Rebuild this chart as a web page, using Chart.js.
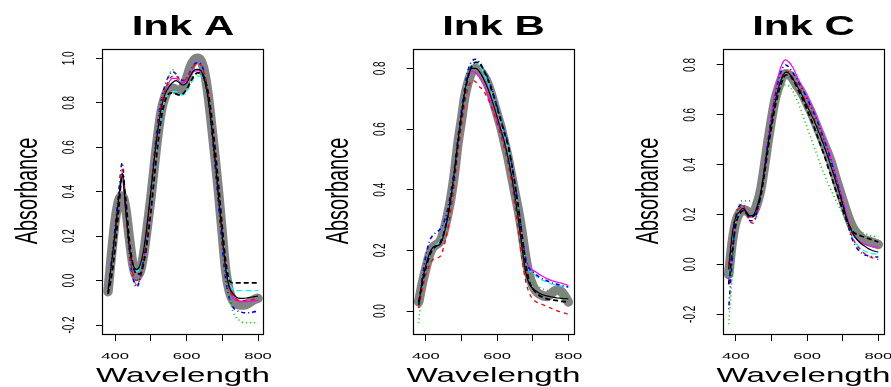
<!DOCTYPE html>
<html>
<head>
<meta charset="utf-8">
<script src="https://cdn.jsdelivr.net/npm/chart.js@4.4.0/dist/chart.umd.min.js"></script>
<style>
body { margin: 0; background: #fff; }
#wrap { position: relative; width: 891px; height: 387px; }
canvas { position: absolute; left: 0; top: 0; }
</style>
</head>
<body>
<div id="wrap">
<canvas id="inkA" width="891" height="387"></canvas>
<canvas id="inkB" width="891" height="387"></canvas>
<canvas id="inkC" width="891" height="387"></canvas>
</div>
<script>
// ------------------------------------------------------------------ data section
var wavelength = [380,390,400,410,420,430,440,450,460,470,480,490,500,510,520,530,540,550,560,570,580,
                  590,600,610,620,630,640,650,660,670,680,690,700,710,720,730,740,750,760,770,780,790,800];
var x_ticks = [400, 500, 600, 700, 800];
var x_tick_labels = ['400', '', '600', '', '800'];
var inkA_y_ticks = [-0.2, 0, 0.2, 0.4, 0.6, 0.8, 1.0];
var inkB_y_ticks = [0, 0.2, 0.4, 0.6, 0.8];
var inkC_y_ticks = [-0.2, 0, 0.2, 0.4, 0.6, 0.8];

// ink A
var inkA_mean    = [-0.05,0.12,0.27,0.36,0.38,0.32,0.19,0.07,0.02,0.04,0.12,0.24,0.37,0.52,0.66,0.77,0.83,0.86,0.865,0.86,0.855,0.87,0.91,0.96,0.99,1.0,0.99,0.94,0.84,0.70,0.55,0.39,0.21,0.04,-0.05,-0.09,-0.105,-0.11,-0.11,-0.105,-0.095,-0.085,-0.08];
var inkA_black   = [-0.05,0.08,0.22,0.37,0.47,0.31,0.15,0.07,0.05,0.07,0.14,0.26,0.40,0.55,0.68,0.78,0.84,0.87,0.89,0.90,0.89,0.88,0.89,0.92,0.945,0.95,0.945,0.90,0.82,0.69,0.54,0.37,0.20,0.05,-0.03,-0.06,-0.075,-0.08,-0.08,-0.078,-0.075,-0.072,-0.07];
var inkA_black2  = [-0.06,0.02,0.15,0.32,0.48,0.36,0.18,0.07,0.03,0.03,0.08,0.18,0.31,0.47,0.62,0.74,0.81,0.84,0.845,0.84,0.835,0.84,0.86,0.89,0.92,0.935,0.935,0.91,0.85,0.74,0.59,0.42,0.24,0.08,0.0,-0.01,-0.01,-0.01,-0.01,-0.01,-0.01,-0.01,-0.01];
var inkA_red     = [-0.04,0.07,0.21,0.37,0.50,0.31,0.13,0.03,0.0,0.03,0.12,0.25,0.40,0.56,0.70,0.80,0.86,0.90,0.92,0.92,0.905,0.90,0.91,0.94,0.965,0.975,0.97,0.93,0.84,0.70,0.54,0.37,0.19,0.04,-0.04,-0.07,-0.085,-0.09,-0.09,-0.09,-0.088,-0.085,-0.085];
var inkA_green   = [-0.05,0.06,0.20,0.36,0.49,0.30,0.12,0.02,-0.02,0.02,0.11,0.24,0.39,0.55,0.70,0.81,0.88,0.92,0.95,0.93,0.90,0.88,0.885,0.90,0.92,0.93,0.93,0.89,0.81,0.68,0.52,0.35,0.17,0.02,-0.08,-0.14,-0.17,-0.18,-0.19,-0.19,-0.19,-0.19,-0.19];
var inkA_blue    = [-0.05,0.09,0.24,0.40,0.53,0.32,0.12,0.01,-0.03,0.01,0.10,0.24,0.40,0.57,0.72,0.82,0.88,0.92,0.94,0.93,0.91,0.90,0.91,0.94,0.97,0.98,0.975,0.93,0.83,0.68,0.51,0.33,0.15,0.0,-0.08,-0.12,-0.135,-0.14,-0.145,-0.145,-0.145,-0.14,-0.14];
var inkA_cyan    = [-0.05,0.07,0.21,0.36,0.46,0.32,0.16,0.07,0.04,0.06,0.13,0.25,0.38,0.53,0.66,0.76,0.82,0.84,0.85,0.85,0.84,0.835,0.85,0.88,0.91,0.92,0.92,0.89,0.81,0.69,0.54,0.38,0.21,0.07,-0.01,-0.04,-0.045,-0.045,-0.045,-0.045,-0.045,-0.045,-0.045];
var inkA_magenta = [-0.05,0.07,0.21,0.36,0.45,0.30,0.13,0.02,-0.02,0.01,0.10,0.23,0.38,0.54,0.69,0.80,0.86,0.89,0.91,0.91,0.895,0.89,0.90,0.92,0.94,0.945,0.94,0.90,0.82,0.69,0.53,0.36,0.19,0.04,-0.04,-0.08,-0.09,-0.095,-0.095,-0.095,-0.093,-0.09,-0.09];

// ink B
var inkB_mean    = [0.03,0.09,0.14,0.185,0.21,0.22,0.23,0.26,0.31,0.37,0.45,0.55,0.63,0.71,0.76,0.79,0.80,0.795,0.78,0.76,0.73,0.69,0.65,0.61,0.56,0.51,0.45,0.39,0.33,0.26,0.18,0.12,0.085,0.065,0.055,0.05,0.048,0.055,0.065,0.07,0.065,0.05,0.03];
var inkB_black   = [0.02,0.10,0.15,0.19,0.21,0.215,0.22,0.25,0.30,0.37,0.46,0.56,0.65,0.73,0.78,0.80,0.80,0.79,0.77,0.745,0.715,0.68,0.64,0.60,0.56,0.51,0.45,0.38,0.30,0.21,0.13,0.09,0.075,0.065,0.058,0.053,0.05,0.047,0.045,0.043,0.042,0.041,0.04];
var inkB_black2  = [0.03,0.09,0.14,0.18,0.205,0.215,0.225,0.255,0.305,0.37,0.45,0.55,0.64,0.72,0.78,0.81,0.82,0.82,0.80,0.775,0.745,0.71,0.67,0.63,0.59,0.55,0.49,0.42,0.34,0.25,0.16,0.10,0.075,0.06,0.05,0.045,0.04,0.038,0.036,0.034,0.032,0.031,0.03];
var inkB_red     = [0.01,0.07,0.12,0.15,0.17,0.175,0.18,0.21,0.26,0.33,0.42,0.52,0.61,0.69,0.74,0.76,0.755,0.74,0.73,0.71,0.685,0.655,0.62,0.58,0.54,0.49,0.43,0.35,0.26,0.17,0.10,0.06,0.04,0.03,0.025,0.02,0.015,0.01,0.005,0.0,-0.003,-0.007,-0.01];
var inkB_green   = [-0.04,0.08,0.14,0.18,0.205,0.215,0.225,0.255,0.30,0.37,0.46,0.56,0.65,0.73,0.78,0.80,0.80,0.79,0.775,0.75,0.72,0.685,0.645,0.605,0.565,0.52,0.46,0.40,0.32,0.23,0.15,0.11,0.095,0.085,0.078,0.072,0.068,0.065,0.063,0.06,0.055,0.05,0.045];
var inkB_blue    = [0.01,0.11,0.18,0.23,0.25,0.26,0.27,0.29,0.33,0.39,0.47,0.57,0.66,0.74,0.80,0.825,0.83,0.82,0.80,0.78,0.75,0.715,0.675,0.635,0.595,0.555,0.49,0.42,0.34,0.25,0.175,0.14,0.13,0.12,0.11,0.105,0.10,0.095,0.09,0.088,0.085,0.082,0.08];
var inkB_cyan    = [0.02,0.10,0.15,0.19,0.21,0.22,0.23,0.26,0.31,0.38,0.47,0.57,0.66,0.74,0.79,0.815,0.82,0.81,0.79,0.765,0.735,0.70,0.66,0.62,0.58,0.535,0.475,0.405,0.325,0.24,0.165,0.135,0.125,0.115,0.105,0.10,0.095,0.09,0.087,0.085,0.082,0.08,0.078];
var inkB_magenta = [0.02,0.10,0.15,0.19,0.21,0.215,0.22,0.25,0.30,0.37,0.46,0.56,0.65,0.73,0.775,0.79,0.785,0.77,0.75,0.725,0.695,0.66,0.625,0.59,0.55,0.51,0.455,0.39,0.31,0.23,0.17,0.145,0.135,0.128,0.12,0.113,0.107,0.102,0.098,0.095,0.092,0.088,0.085];

// ink C
var inkC_mean    = [-0.04,0.09,0.17,0.205,0.22,0.215,0.205,0.21,0.245,0.30,0.39,0.49,0.58,0.66,0.71,0.75,0.765,0.76,0.745,0.72,0.70,0.675,0.645,0.615,0.58,0.545,0.51,0.475,0.44,0.40,0.35,0.305,0.26,0.215,0.175,0.145,0.125,0.11,0.10,0.095,0.09,0.085,0.08];
var inkC_black   = [-0.02,0.12,0.19,0.21,0.225,0.21,0.195,0.20,0.235,0.29,0.38,0.48,0.57,0.65,0.71,0.75,0.77,0.765,0.745,0.72,0.695,0.665,0.635,0.605,0.575,0.54,0.505,0.465,0.425,0.38,0.335,0.29,0.24,0.19,0.15,0.12,0.10,0.085,0.075,0.065,0.058,0.053,0.05];
var inkC_black2  = [-0.08,0.05,0.16,0.20,0.215,0.205,0.19,0.195,0.225,0.275,0.36,0.46,0.55,0.63,0.69,0.735,0.76,0.76,0.74,0.715,0.685,0.655,0.62,0.585,0.55,0.51,0.47,0.43,0.385,0.345,0.30,0.26,0.22,0.18,0.15,0.13,0.12,0.115,0.11,0.105,0.10,0.095,0.09];
var inkC_red     = [0.0,0.13,0.20,0.225,0.235,0.205,0.17,0.165,0.21,0.28,0.37,0.47,0.56,0.645,0.71,0.755,0.775,0.77,0.75,0.73,0.705,0.675,0.645,0.615,0.585,0.55,0.51,0.47,0.43,0.385,0.34,0.29,0.24,0.185,0.135,0.10,0.075,0.06,0.045,0.035,0.028,0.023,0.02];
var inkC_green   = [-0.24,-0.05,0.15,0.24,0.255,0.255,0.255,0.25,0.26,0.29,0.36,0.45,0.54,0.62,0.68,0.71,0.72,0.715,0.695,0.665,0.63,0.59,0.55,0.51,0.47,0.43,0.39,0.355,0.32,0.29,0.26,0.23,0.205,0.18,0.16,0.15,0.14,0.13,0.125,0.12,0.115,0.112,0.11];
var inkC_blue    = [-0.18,0.02,0.19,0.235,0.24,0.20,0.175,0.175,0.215,0.28,0.38,0.49,0.59,0.67,0.74,0.785,0.80,0.79,0.77,0.745,0.72,0.695,0.665,0.635,0.605,0.57,0.53,0.49,0.45,0.40,0.35,0.30,0.245,0.185,0.13,0.09,0.065,0.05,0.04,0.035,0.032,0.03,0.03];
var inkC_cyan    = [-0.05,0.10,0.18,0.205,0.215,0.205,0.195,0.20,0.235,0.29,0.38,0.48,0.57,0.65,0.71,0.75,0.765,0.76,0.74,0.715,0.69,0.66,0.63,0.60,0.57,0.535,0.50,0.46,0.42,0.375,0.33,0.285,0.235,0.18,0.135,0.10,0.08,0.065,0.055,0.048,0.044,0.042,0.04];
var inkC_magenta = [-0.06,0.08,0.18,0.21,0.22,0.205,0.19,0.195,0.23,0.29,0.39,0.50,0.60,0.69,0.76,0.805,0.82,0.81,0.79,0.76,0.73,0.70,0.67,0.64,0.61,0.575,0.535,0.495,0.455,0.41,0.36,0.31,0.26,0.205,0.155,0.12,0.10,0.09,0.082,0.076,0.072,0.07,0.07];

// ------------------------------------------------------------------ style section
var rep_colors = ['#000000', '#000000', '#ff0000', '#00cd00', '#0000ff', '#00ffff', '#ff00ff'];
var rep_dash   = [[], [5, 3], [4, 4], [1, 3], [1, 3, 4, 3], [6, 3], []];
var rep_width  = [1.2, 1.8, 1.3, 1.6, 1.6, 1.3, 1.2];

var FONT = '"Liberation Sans", Arial, Helvetica, sans-serif';

var panels = [
    { id: 'inkA', title: 'Ink A', box: [102, 49, 264, 335], ymin: -0.245, ymax: 1.042, yticks: inkA_y_ticks,
      mean: inkA_mean, reps: [inkA_black, inkA_black2, inkA_red, inkA_green, inkA_blue, inkA_cyan, inkA_magenta] },
    { id: 'inkB', title: 'Ink B', box: [412.7, 49, 574.3, 335], ymin: -0.079, ymax: 0.864, yticks: inkB_y_ticks,
      mean: inkB_mean, reps: [inkB_black, inkB_black2, inkB_red, inkB_green, inkB_blue, inkB_cyan, inkB_magenta] },
    { id: 'inkC', title: 'Ink C', box: [722.7, 49, 884.3, 335], ymin: -0.283, ymax: 0.864, yticks: inkC_y_ticks,
      mean: inkC_mean, reps: [inkC_black, inkC_black2, inkC_red, inkC_green, inkC_blue, inkC_cyan, inkC_magenta] }
];

// text stretched along screen x like the original picture
function stretchText(ctx, str, x, y, size, bold, sx, rotated) {
    ctx.save();
    ctx.translate(x, y);
    ctx.scale(sx, 1);
    if (rotated) ctx.rotate(-Math.PI / 2);
    ctx.font = (bold ? 'bold ' : '') + size + 'px ' + FONT;
    ctx.fillStyle = '#000';
    ctx.textAlign = 'center';
    ctx.textBaseline = 'alphabetic';
    ctx.fillText(str, 0, 0);
    ctx.restore();
}

var inkText = {
    id: 'inkText',
    afterDraw: function (chart, args, opts) {
        var ctx = chart.ctx;
        var a = chart.chartArea;
        var xs = chart.scales.x, ys = chart.scales.y;
        ctx.save();
        ctx.strokeStyle = '#000';
        ctx.lineWidth = 1.2;
        ctx.strokeRect(Math.round(a.left) + 0.5, Math.round(a.top) + 0.5,
            Math.round(a.right - a.left) - 1, Math.round(a.bottom - a.top) - 1);
        ctx.restore();

        var cx = (a.left + a.right) / 2;
        stretchText(ctx, opts.title, cx, 35, 28, true, 1.5, false);
        stretchText(ctx, 'Wavelength', cx, 382, 21, false, 1.58, false);
        stretchText(ctx, 'Absorbance', a.left - 65, (a.top + a.bottom) / 2 - 1, 20, false, 1.6, true);

        for (var i = 0; i < x_ticks.length; i++) {
            if (!x_tick_labels[i]) continue;
            stretchText(ctx, x_tick_labels[i], xs.getPixelForValue(x_ticks[i]), 359, 9.5, false, 1.75, false);
        }
        for (var j = 0; j < opts.yticks.length; j++) {
            var v = opts.yticks[j];
            stretchText(ctx, v.toFixed(1), a.left - 28, ys.getPixelForValue(v), 10, false, 1.6, true);
        }
    }
};

function makeChart(p) {
    var ds = [];
    for (var i = 0; i < p.reps.length; i++) {
        var r = p.reps[i];
        ds.push({
            data: wavelength.map(function (w, k) { return { x: w, y: r[k] }; }),
            borderColor: rep_colors[i],
            borderDash: rep_dash[i],
            borderWidth: rep_width[i],
            order: 0
        });
    }
    ds.push({
        data: wavelength.map(function (w, k) { return { x: w, y: p.mean[k] }; }),
        borderColor: '#838383',
        borderWidth: 9.5,
        borderCapStyle: 'round',
        borderJoinStyle: 'round',
        order: 1
    });

    var b = p.box;
    new Chart(document.getElementById(p.id).getContext('2d'), {
        type: 'line',
        data: { datasets: ds },
        options: {
            responsive: false,
            animation: false,
            events: [],
            layout: { padding: { left: b[0] - 10, top: b[1], right: 891 - b[2], bottom: 387 - b[3] - 10 } },
            elements: {
                point: { radius: 0 },
                line: { cubicInterpolationMode: 'monotone', fill: false }
            },
            plugins: {
                legend: { display: false },
                tooltip: { enabled: false },
                inkText: { title: p.title, yticks: p.yticks }
            },
            scales: {
                x: {
                    type: 'linear', min: 363.2, max: 816.8,
                    afterBuildTicks: function (s) { s.ticks = x_ticks.map(function (v) { return { value: v }; }); },
                    afterFit: function (s) { s.height = 10; },
                    ticks: { display: false },
                    border: { display: false },
                    grid: { drawOnChartArea: false, drawTicks: true, tickLength: 6, color: '#000', lineWidth: 1 }
                },
                y: {
                    type: 'linear', min: p.ymin, max: p.ymax,
                    afterBuildTicks: function (s) { s.ticks = p.yticks.map(function (v) { return { value: v }; }); },
                    afterFit: function (s) { s.width = 10; },
                    ticks: { display: false },
                    border: { display: false },
                    grid: { drawOnChartArea: false, drawTicks: true, tickLength: 6, color: '#000', lineWidth: 1 }
                }
            }
        },
        plugins: [inkText]
    });
}

panels.forEach(makeChart);
</script>
</body>
</html>
